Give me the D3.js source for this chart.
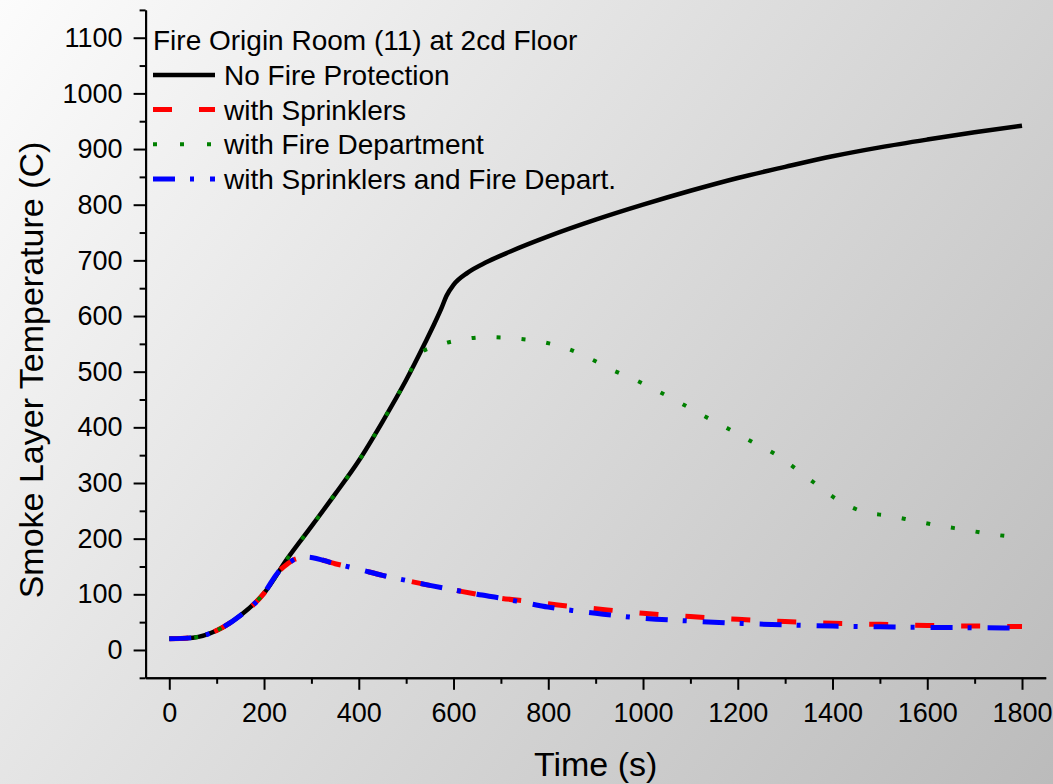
<!DOCTYPE html>
<html>
<head>
<meta charset="utf-8">
<script src="https://cdn.jsdelivr.net/npm/d3@7"></script>
<style>
  body { margin: 0; }
  svg text { font-family: "Liberation Sans", Arial, sans-serif; fill: #000; }
</style>
</head>
<body>
<svg id="chart" width="1053" height="784"></svg>
<script>
// --- data ---
const noProtT = [0, 50, 100, 150, 200, 250, 300, 350, 400, 450, 500, 540, 560, 575, 585, 600, 630, 670, 720, 800, 900, 1000, 1100, 1200, 1300, 1400, 1500, 1600, 1700, 1800];
const noProtV = [20, 22, 35, 62, 102, 165, 222, 280, 340, 410, 485, 552, 587, 615, 636, 656, 678, 697, 716, 743, 773, 800, 825, 848, 868, 887, 903, 917, 930, 942];

const sprinkT = [0, 50, 100, 150, 200, 230, 250, 265, 290, 350, 400, 450, 500, 550, 600, 650, 700, 750, 800, 850, 900, 950, 1000, 1100, 1200, 1300, 1400, 1500, 1600, 1700, 1800];
const sprinkV = [20, 22, 35, 62, 102, 140, 155, 163, 167, 155, 145, 134, 125, 116, 108, 100, 93, 88, 83, 78, 74, 70, 66, 60, 55, 51, 48, 46, 44, 43, 42];

const fireDeptT = [0, 50, 100, 150, 200, 250, 300, 350, 400, 450, 500, 530, 560, 613, 670, 727, 784, 839, 894, 933, 984, 1034, 1083, 1132, 1181, 1230, 1279, 1322, 1362, 1414, 1466, 1520, 1573, 1627, 1680, 1735, 1800];
const fireDeptV = [20, 22, 35, 62, 102, 165, 222, 280, 340, 410, 485, 533, 545, 557, 562, 560, 554, 542, 521, 504, 485, 464, 442, 419, 397, 374, 352, 326, 300, 268, 248, 241, 232, 223, 216, 208, 202];

const bothT = [0, 50, 100, 150, 200, 230, 250, 265, 290, 350, 400, 450, 500, 550, 600, 650, 700, 750, 800, 850, 900, 950, 1000, 1100, 1200, 1300, 1400, 1500, 1600, 1700, 1800];
const bothV = [20, 22, 35, 62, 102, 140, 155, 163, 167, 155, 145, 134, 125, 116, 108, 100, 93, 85, 77, 71, 66, 61, 57, 52, 48, 45, 43, 41.5, 40.5, 40, 39];

const xMajor = [0, 200, 400, 600, 800, 1000, 1200, 1400, 1600, 1800];
const xMinor = [100, 300, 500, 700, 900, 1100, 1300, 1500, 1700];
const yMajor = [0, 100, 200, 300, 400, 500, 600, 700, 800, 900, 1000, 1100];
const yMinor = [-50, 50, 150, 250, 350, 450, 550, 650, 750, 850, 950, 1050, 1150];

const legendTitle = "Fire Origin Room (11) at 2cd Floor";
const seriesNames = ["No Fire Protection", "with Sprinklers", "with Fire Department", "with Sprinklers and Fire Depart."];

const svg = d3.select("#chart");

// gradient background
const defs = svg.append("defs");
const grad = defs.append("linearGradient")
    .attr("id", "bg")
    .attr("gradientUnits", "userSpaceOnUse")
    .attr("x1", 0).attr("y1", 0)
    .attr("x2", 1053).attr("y2", 784);
grad.append("stop").attr("offset", 0).attr("stop-color", "#fcfcfc");
grad.append("stop").attr("offset", 1).attr("stop-color", "#bbbbbb");
svg.append("rect").attr("width", 1053).attr("height", 784).attr("fill", "url(#bg)");

const x = d3.scaleLinear().domain([-50, 1850]).range([145.6, 1045.7]);
const y = d3.scaleLinear().domain([-50, 1150]).range([677.8, 9.9]);

// axes
const fmt = d3.format("d");
const xAxisG = svg.append("g").attr("transform", `translate(0,${y(-50)})`);
xAxisG.call(d3.axisBottom(x).tickValues(xMinor).tickFormat("").tickSize(6).tickSizeOuter(0));
xAxisG.append("g").call(d3.axisBottom(x).tickValues(xMajor).tickFormat(fmt).tickSize(12).tickPadding(13).tickSizeOuter(0));

const yAxisG = svg.append("g").attr("transform", `translate(${x(-50)},0)`);
yAxisG.call(d3.axisLeft(y).tickValues(yMinor).tickFormat("").tickSize(6).tickSizeOuter(0));
yAxisG.append("g").call(d3.axisLeft(y).tickValues(yMajor).tickFormat(fmt).tickSize(12).tickPadding(11).tickSizeOuter(0));

svg.selectAll(".domain, .tick line").attr("stroke", "#000").attr("stroke-width", 2);
svg.selectAll(".tick text").attr("font-size", 27).attr("fill", "#000")
    .style("font-family", '"Liberation Sans", Arial, sans-serif');

// axis titles
svg.append("text")
    .attr("x", (x(-50) + x(1850)) / 2).attr("y", 776)
    .attr("text-anchor", "middle").attr("font-size", 34)
    .text("Time (s)");
svg.append("text")
    .attr("transform", "translate(43,370) rotate(-90)")
    .attr("text-anchor", "middle").attr("font-size", 34)
    .text("Smoke Layer Temperature (C)");

// series
const series = [
  { t: noProtT, v: noProtV, color: "#000000", width: 4.5, dash: null },
  { t: sprinkT, v: sprinkV, color: "#ff0000", width: 5, dash: "19,27" },
  { t: fireDeptT, v: fireDeptV, color: "#008000", width: 4, dash: "4,21" },
  { t: bothT, v: bothV, color: "#0000ff", width: 5, dash: "22,15,4,16" }
];

const line = d3.line()
    .x(d => x(d[0]))
    .y(d => y(d[1]))
    .curve(d3.curveMonotoneX);

series.forEach(s => {
    const pts = s.t.map((t, i) => [t, s.v[i]]);
    svg.append("path")
        .datum(pts)
        .attr("d", line)
        .attr("fill", "none")
        .attr("stroke", s.color)
        .attr("stroke-width", s.width)
        .attr("stroke-dasharray", s.dash)
        .attr("stroke-linejoin", "round");
});

// legend
const legend = svg.append("g");
legend.append("text")
    .attr("x", 153).attr("y", 49.5)
    .attr("font-size", 28)
    .text(legendTitle);

const rowY = [75, 109.5, 144.3, 179];
series.forEach((s, i) => {
    legend.append("line")
        .attr("x1", 153).attr("x2", 215)
        .attr("y1", rowY[i]).attr("y2", rowY[i])
        .attr("stroke", s.color)
        .attr("stroke-width", s.width)
        .attr("stroke-dasharray", i === 1 ? "19,27" : i === 2 ? "4,23" : s.dash);
    legend.append("text")
        .attr("x", 224).attr("y", rowY[i] + 10)
        .attr("font-size", 28)
        .text(seriesNames[i]);
});
</script>
</body>
</html>
